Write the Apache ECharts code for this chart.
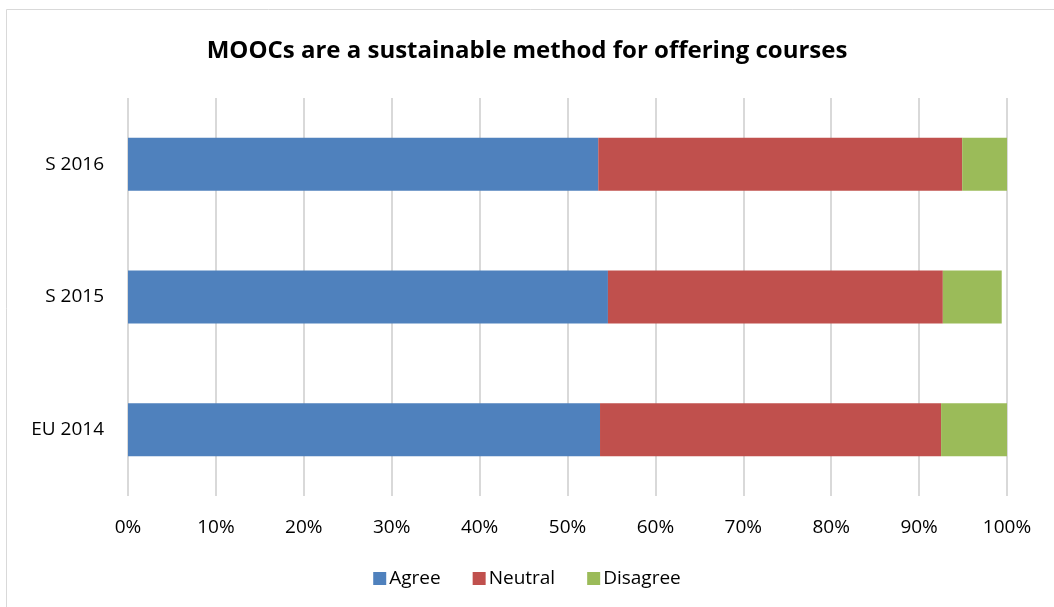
<!DOCTYPE html>
<html>
<head>
<meta charset="utf-8">
<script src="https://cdn.jsdelivr.net/npm/echarts@6/dist/echarts.min.js"></script>
<style>html,body{margin:0;padding:0;background:#fff}#c{width:1054px;height:607px}</style>
</head>
<body>
<div id="c"></div>
<script>
const categories = ['EU 2014', 'S 2015', 'S 2016'];
const agree = [53.7, 54.6, 53.5];
const neutral = [38.8, 38.1, 41.4];
const disagree = [7.5, 6.7, 5.1];
const xTicks = [0, 10, 20, 30, 40, 50, 60, 70, 80, 90, 100];
const titleText = 'MOOCs are a sustainable method for offering courses';

const font = '"Open Sans", "Noto Sans", sans-serif';
const chart = echarts.init(document.getElementById('c'), null, {renderer: 'canvas'});
function bar(name, data, color) {
  return {
    name, type: 'bar', stack: 'total', data,
    barCategoryGap: '60%',
    itemStyle: {color},
    emphasis: {disabled: true}
  };
}
chart.setOption({
  animation: false,
  backgroundColor: '#fff',
  graphic: [{
    type: 'rect', shape: {x: 6.5, y: 9.5, width: 1100, height: 700},
    style: {fill: 'none', stroke: '#d9d9d9', lineWidth: 1}, silent: true, z: -1
  }],
  title: {
    text: titleText, left: 'center', top: 34,
    textStyle: {fontFamily: font, fontWeight: 'bold', fontSize: 24, color: '#000'}
  },
  legend: {
    bottom: 14, left: 'center', itemWidth: 13, itemHeight: 13, itemGap: 32,
    icon: 'rect',
    textStyle: {fontFamily: font, fontSize: 19, color: '#000', padding: [0, 0, 0, -2]},
    data: ['Agree', 'Neutral', 'Disagree']
  },
  grid: {left: 128, right: 47, top: 98, bottom: 111, containLabel: false},
  xAxis: {
    type: 'value', min: xTicks[0], max: xTicks[xTicks.length - 1], interval: 10,
    axisLine: {show: false}, axisTick: {show: false},
    splitLine: {show: true, lineStyle: {color: '#d9d9d9', width: 2}},
    axisLabel: {fontFamily: font, fontSize: 19, color: '#000', margin: 22, formatter: v => v + '%'}
  },
  yAxis: {
    type: 'category', data: categories,
    axisLine: {show: false}, axisTick: {show: false},
    axisLabel: {fontFamily: font, fontSize: 19, color: '#000', margin: 24}
  },
  series: [
    bar('Agree', agree, '#4f81bd'),
    bar('Neutral', neutral, '#c0504d'),
    bar('Disagree', disagree, '#9bbb59')
  ]
});
</script>
</body>
</html>
